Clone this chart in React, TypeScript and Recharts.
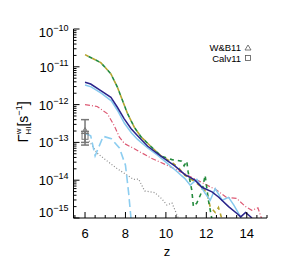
import React from "react";
import { ComposedChart, Line, Scatter, ErrorBar, XAxis, YAxis } from "recharts";

const FONT = '"Liberation Sans", Arial, Helvetica, sans-serif';

// tick values
const X_MAJOR = [6, 8, 10, 12, 14];
const X_TICKS = [5.5, 6, 6.5, 7, 7.5, 8, 8.5, 9, 9.5, 10, 10.5, 11, 11.5, 12, 12.5, 13, 13.5, 14, 14.5, 15];
const Y_EXP = [-15, -14, -13, -12, -11, -10];
const Y_TICKS = Y_EXP.flatMap((e) =>
  e === -10 ? [1e-10] : [1, 2, 3, 4, 5, 6, 7, 8, 9].map((m) => Number(`${m}e${e}`))
);

// series (z, Gamma_HI)
const navyZ = [6.0, 6.28, 6.78, 7.28, 7.6, 7.94, 8.28, 8.6, 9.1, 9.6, 10.1, 10.44, 10.94, 11.44, 11.78, 12.28, 12.6, 13.1, 13.53, 13.7, 13.94, 14.2, 14.3];
const navyG = [3.9e-12, 3.5e-12, 2.35e-12, 1.55e-12, 8.5e-13, 4.2e-13, 2.3e-13, 1.5e-13, 7.9e-14, 5.0e-14, 3.2e-14, 2.4e-14, 1.4e-14, 1.0e-14, 6.5e-15, 4.9e-15, 3.6e-15, 2.0e-15, 1.3e-15, 1.07e-15, 1.4e-15, 1.07e-15, 0.9e-15];

const skyZ = [6.0, 6.3, 6.8, 7.3, 7.6, 7.95, 8.3, 8.6, 9.1, 9.6, 10.0, 10.5, 10.94, 11.2, 11.53, 11.94, 12.19, 12.44, 12.78, 13.1, 13.36, 13.65, 13.75];
const skyG = [3.3e-12, 2.95e-12, 2.0e-12, 1.26e-12, 7.1e-13, 3.2e-13, 1.78e-13, 1.2e-13, 7.1e-14, 4.5e-14, 3.0e-14, 1.78e-14, 1.1e-14, 7.4e-15, 1.05e-14, 4.5e-15, 2.95e-15, 6.0e-15, 2.95e-15, 3.5e-15, 2.2e-15, 1.17e-15, 0.9e-15];

const skyDashZ = [6.05, 6.28, 6.5, 6.9, 7.3, 7.7, 8.0, 8.15, 8.28];
const skyDashG = [1.7e-13, 1.5e-13, 4.4e-14, 1.45e-13, 1.26e-13, 7.1e-14, 2.5e-14, 5.0e-15, 0.9e-15];

const grayZ = [6.2, 6.6, 7.1, 7.6, 8.05, 8.4, 8.65, 8.95, 9.45, 9.8, 10.05, 10.3, 10.55, 10.65];
const grayG = [1.1e-13, 5.2e-14, 3.2e-14, 2.0e-14, 1.4e-14, 1.05e-14, 1.07e-14, 5.2e-15, 4.7e-15, 3.2e-15, 2.2e-15, 2.5e-15, 1.2e-15, 0.9e-15];

const redZ = [6.0, 6.6, 7.1, 7.44, 7.7, 7.95, 8.44, 9.28, 10.05, 10.9, 11.78, 12.5, 13.0, 13.5, 13.94, 14.25, 14.55, 14.75];
const redG = [1.0e-12, 8.9e-13, 5.8e-13, 2.8e-13, 1.38e-13, 9.3e-14, 6.8e-14, 3.8e-14, 2.5e-14, 1.5e-14, 8.7e-15, 5.5e-15, 3.5e-15, 3.3e-15, 2.0e-15, 1.6e-15, 1.86e-15, 0.9e-15];

const greenZ = [6.0, 6.78, 7.28, 7.6, 7.86, 8.1, 8.44, 8.78, 9.28, 9.78, 10.3, 10.78, 10.9, 11.03, 11.1, 11.28, 11.36, 11.53, 11.78, 11.94, 12.1, 12.28];
const greenG = [2.1e-11, 1.29e-11, 6.5e-12, 2.9e-12, 1.26e-12, 5.8e-13, 2.5e-13, 1.38e-13, 7.6e-14, 4.3e-14, 3.5e-14, 3.2e-14, 2.4e-14, 3.2e-14, 1.66e-14, 5.5e-15, 2.0e-15, 2.5e-15, 5.0e-15, 1.35e-14, 3.0e-15, 0.9e-15];

const oliveZ = [6.0, 6.78, 7.28, 7.6, 7.86, 8.1, 8.44, 8.78, 9.28, 9.78, 10.28, 10.6, 10.94, 11.44, 11.78, 12.03, 12.19, 12.44, 12.6, 12.78];
const oliveG = [2.1e-11, 1.29e-11, 6.5e-12, 2.9e-12, 1.26e-12, 5.8e-13, 2.5e-13, 1.38e-13, 7.6e-14, 4.3e-14, 3.0e-14, 2.2e-14, 1.35e-14, 9.1e-15, 6.5e-15, 4.5e-15, 2.0e-15, 1.4e-15, 1.9e-15, 0.9e-15];

// observational points
const wbZ = [6.0];
const wbG = [2.0e-13];
const wbErr = [[1.0e-13, 2.0e-13]];
const calvZ = [6.0];
const calvG = [1.45e-13];
const calvErr = [[0.6e-13, 0.5e-13]];

const toRows = (z: number[], g: number[]) => z.map((v, i) => ({ z: v, g: g[i] }));
const toPts = (z: number[], g: number[], e: number[][]) => z.map((v, i) => ({ z: v, g: g[i], err: e[i] }));

const isMajorY = (v: number) => Math.abs(Math.log10(v) - Math.round(Math.log10(v))) < 1e-6;

const BottomTick = (p: any) => {
  const major = X_MAJOR.includes(p.payload.value);
  return (
    <g>
      <line x1={p.x} x2={p.x} y1={p.y} y2={p.y - (major ? 6 : 3)} stroke="#000" />
      {major && (
        <text x={p.x} y={p.y + 20} textAnchor="middle" fontSize={13} fontFamily={FONT} fill="#000">
          {p.payload.value}
        </text>
      )}
    </g>
  );
};

const TopTick = (p: any) => {
  const major = X_MAJOR.includes(p.payload.value);
  return <line x1={p.x} x2={p.x} y1={p.y} y2={p.y + (major ? 6 : 3)} stroke="#000" />;
};

const LeftTick = (p: any) => {
  const v = p.payload.value;
  const major = isMajorY(v);
  const e = Math.round(Math.log10(v));
  const shift = e === -10 ? 3 : e === -15 ? -6 : 0;
  return (
    <g>
      <line x1={p.x} x2={p.x + (major ? 6 : 3)} y1={p.y} y2={p.y} stroke="#000" />
      {major && (
        <text x={p.x - 5} y={p.y + 5 + shift} textAnchor="end" fontSize={13} fontFamily={FONT} fill="#000">
          10
          <tspan dy={-6} fontSize={9}>
            {"\u2212" + String(-e)}
          </tspan>
        </text>
      )}
    </g>
  );
};

const RightTick = (p: any) => {
  const major = isMajorY(p.payload.value);
  return <line x1={p.x} x2={p.x - (major ? 6 : 3)} y1={p.y} y2={p.y} stroke="#000" />;
};

const Triangle = (p: any) => (
  <polygon
    points={`${p.cx},${p.cy - 3.5} ${p.cx - 3.5},${p.cy + 2.5} ${p.cx + 3.5},${p.cy + 2.5}`}
    fill="none"
    stroke="#777"
  />
);
const Square = (p: any) => (
  <rect x={p.cx - 3} y={p.cy - 3} width={6} height={6} fill="none" stroke="#777" />
);

const ids = { xAxisId: "b", yAxisId: "l" };

export default function App() {
  return (
    <div style={{ position: "absolute", left: 0, top: 0, background: "#fff" }}>
      <ComposedChart width={293} height={273} margin={{ top: 29, right: 26, bottom: 0, left: 0 }}>
        <XAxis
          xAxisId="b"
          type="number"
          dataKey="z"
          domain={[5.43, 15]}
          allowDataOverflow
          ticks={X_TICKS}
          interval={0}
          tickSize={0}
          tickMargin={0}
          tickLine={false}
          tick={BottomTick}
          height={55}
          axisLine={{ stroke: "#000" }}
        />
        <XAxis
          xAxisId="t"
          orientation="top"
          type="number"
          dataKey="z"
          domain={[5.43, 15]}
          allowDataOverflow
          ticks={X_TICKS}
          interval={0}
          tickSize={0}
          tickMargin={0}
          tickLine={false}
          tick={TopTick}
          height={0}
          axisLine={{ stroke: "#000" }}
        />
        <YAxis
          yAxisId="l"
          type="number"
          scale="log"
          domain={[1e-15, 1e-10]}
          allowDataOverflow
          ticks={Y_TICKS}
          interval={0}
          tickSize={0}
          tickMargin={0}
          tickLine={false}
          tick={LeftTick}
          width={73.5}
          axisLine={{ stroke: "#000" }}
        />
        <YAxis
          yAxisId="r"
          orientation="right"
          type="number"
          scale="log"
          domain={[1e-15, 1e-10]}
          allowDataOverflow
          ticks={Y_TICKS}
          interval={0}
          tickSize={0}
          tickMargin={0}
          tickLine={false}
          tick={RightTick}
          width={0}
          axisLine={{ stroke: "#000" }}
        />

        <Line {...ids} data={toRows(grayZ, grayG)} dataKey="g" stroke="#8a8a8a" strokeWidth={1.2} strokeDasharray="1 2" dot={false} isAnimationActive={false} />
        <Line {...ids} data={toRows(skyDashZ, skyDashG)} dataKey="g" stroke="#8ccdf0" strokeWidth={1.6} strokeDasharray="8 4" dot={false} isAnimationActive={false} />
        <Line {...ids} data={toRows(redZ, redG)} dataKey="g" stroke="#dd5a74" strokeWidth={1.2} strokeDasharray="5 2 1 2" dot={false} isAnimationActive={false} />
        <Line {...ids} data={toRows(oliveZ, oliveG)} dataKey="g" stroke="#b5a32c" strokeWidth={1.6} strokeDasharray="4 4" dot={false} isAnimationActive={false} />
        <Line {...ids} data={toRows(greenZ, greenG)} dataKey="g" stroke="#238a3c" strokeWidth={1.6} strokeDasharray="4 4" strokeDashoffset={4} dot={false} isAnimationActive={false} />
        <Line {...ids} data={toRows(skyZ, skyG)} dataKey="g" stroke="#86c9ee" strokeWidth={1.5} dot={false} isAnimationActive={false} />
        <Line {...ids} data={toRows(navyZ, navyG)} dataKey="g" stroke="#2a238a" strokeWidth={1.5} dot={false} isAnimationActive={false} />

        <Scatter {...ids} data={toPts(wbZ, wbG, wbErr)} dataKey="g" shape={Triangle} isAnimationActive={false}>
          <ErrorBar dataKey="err" direction="y" stroke="#777" width={4} />
        </Scatter>
        <Scatter {...ids} data={toPts(calvZ, calvG, calvErr)} dataKey="g" shape={Square} isAnimationActive={false}>
          <ErrorBar dataKey="err" direction="y" stroke="#777" width={4} />
        </Scatter>

        <g fontFamily={FONT} fill="#000">
          <text x={241} y={51} textAnchor="end" fontSize={9.5}>W&amp;B11</text>
          <text x={241} y={62} textAnchor="end" fontSize={9.5}>Calv11</text>
          <polygon points="248,45 245,50 251,50" fill="none" stroke="#555" strokeWidth={0.8} />
          <rect x={245.5} y={55.5} width={5} height={5} fill="none" stroke="#555" strokeWidth={0.8} />
          <text x={167} y={256} textAnchor="middle" fontSize={13}>z</text>
          <text transform="rotate(-90, 28, 122)" x={28} y={122} textAnchor="middle" fontSize={15}>
            {"\u0393"}
            <tspan fontSize={8} dy={-7}>w</tspan>
            <tspan fontSize={8} dx={-6} dy={10}>HI</tspan>
            <tspan fontSize={14} dy={-3}>[s</tspan>
            <tspan fontSize={9} dy={-6}>{"\u2212"}1</tspan>
            <tspan fontSize={14} dy={6}>]</tspan>
          </text>
        </g>
      </ComposedChart>
    </div>
  );
}
